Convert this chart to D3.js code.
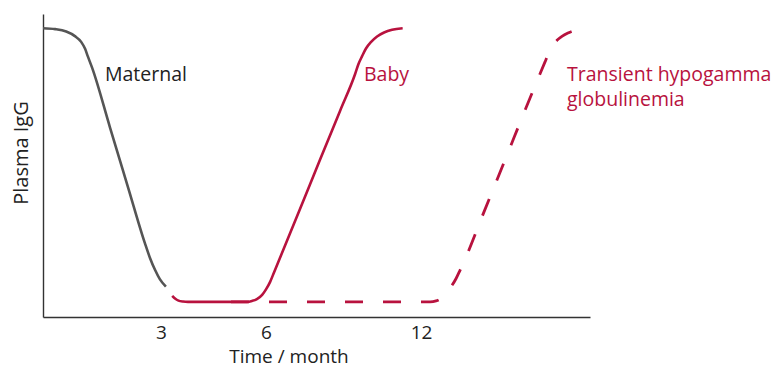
<!DOCTYPE html>
<html>
<head>
<meta charset="utf-8">
<script src="https://cdn.jsdelivr.net/npm/d3@7"></script>
<style>
  html, body { margin: 0; padding: 0; background: #fff; }
  svg { display: block; font-family: "Open Sans", "Noto Sans", sans-serif; }
</style>
</head>
<body>
<svg id="chart" width="781" height="368"></svg>
<script>
// ---- data ----
const tickMonths = [3, 6, 12];
const tickLabels = ["3", "6", "12"];

const maternalMonths = [0, 0.31, 0.59, 0.81, 0.97, 1.07, 1.14, 1.25, 1.7, 2.16, 2.59, 2.72, 2.85, 2.97, 3.14];
const maternalLevels = [95.3, 95.0, 94.2, 92.7, 90.8, 88.5, 86.0, 82.2, 62.7, 42.9, 24.4, 19.5, 15.5, 12.5, 10.0];

const babyMonths = [3.32, 3.4, 3.5, 3.63, 3.77, 5.46, 5.6, 5.74, 5.89, 6.0, 6.16, 6.31, 7.32, 8.09, 8.87, 9.45, 9.58, 9.72, 9.87, 10.07, 10.3, 10.57, 10.88, 11.29];
const babyLevels  = [7.0, 6.1, 5.4, 5.1, 5.0, 5.0, 5.3, 5.9, 7.3, 9.1, 11.6, 14.7, 35.7, 51.9, 68.1, 80.2, 83.5, 86.1, 88.6, 90.8, 92.6, 93.9, 94.8, 95.3];

const transientMonths = [5.0, 12.35, 12.58, 12.77, 12.96, 13.15, 13.35, 13.5, 13.65, 14.4, 15.23, 16.19, 16.77, 16.92, 17.08, 17.23, 17.42, 17.65, 17.85, 18.04];
const transientLevels = [5.0, 5.0, 5.3, 6.1, 7.8, 9.9, 12.7, 15.4, 18.2, 34.2, 51.8, 72.2, 84.2, 87.3, 89.8, 91.3, 92.6, 93.7, 94.4, 94.7];

const seriesNames = ["Maternal", "Baby", "Transient hypogamma|globulinemia"];
const xTitle = "Time / month";
const yTitle = "Plasma IgG";

// ---- layout ----
const svg = d3.select("#chart");
const grey = "#555555";
const red = "#B8123E";

// schematic (non-uniform) month axis
const x = d3.scaleLinear().domain([0, 3, 6, 12, 18.5]).range([43, 161, 266, 421, 590]);
const y = d3.scaleLinear().domain([0, 100]).range([317, 14]);

const zip = (ms, ls) => ms.map((m, i) => ({ m, v: ls[i] }));
const line = d3.line().x(d => x(d.m)).y(d => y(d.v)).curve(d3.curveMonotoneX);

// axes
const xAxis = d3.axisBottom(x).tickValues(tickMonths).tickFormat((d, i) => tickLabels[i]).tickSize(0).tickSizeOuter(0).tickPadding(9);
const gx = svg.append("g").attr("transform", `translate(0,${y(0)})`).call(xAxis);
gx.select(".domain").attr("stroke", "#333").attr("stroke-width", 1.4);
gx.selectAll("text").attr("font-size", 19).attr("fill", "#222").attr("font-family", "Open Sans, sans-serif");

const yAxis = d3.axisLeft(y).tickValues([]).tickSizeOuter(0);
const gy = svg.append("g").attr("transform", `translate(${x(0)},0)`).call(yAxis);
gy.select(".domain").attr("stroke", "#333").attr("stroke-width", 1.4);

// lines
svg.append("path").datum(zip(maternalMonths, maternalLevels))
  .attr("d", line).attr("fill", "none").attr("stroke", grey).attr("stroke-width", 2.6);

svg.append("path").datum(zip(transientMonths, transientLevels))
  .attr("d", line).attr("fill", "none").attr("stroke", red).attr("stroke-width", 2.8)
  .attr("stroke-dasharray", "18,20");

svg.append("path").datum(zip(babyMonths, babyLevels))
  .attr("d", line).attr("fill", "none").attr("stroke", red).attr("stroke-width", 2.6);

// labels
svg.append("text").attr("x", 105).attr("y", 81).attr("font-size", 19.5).attr("fill", "#222").text(seriesNames[0]);
svg.append("text").attr("x", 364).attr("y", 81).attr("font-size", 19.5).attr("fill", red).text(seriesNames[1]);
const tl = svg.append("text").attr("x", 567).attr("y", 81).attr("font-size", 19.5).attr("fill", red);
seriesNames[2].split("|").forEach((s, i) => {
  tl.append("tspan").attr("x", 567).attr("dy", i === 0 ? 0 : 25).text(s);
});

svg.append("text").attr("x", 289).attr("y", 363).attr("text-anchor", "middle")
  .attr("font-size", 19).attr("fill", "#222").text(xTitle);
svg.append("text").attr("transform", "translate(28,153) rotate(-90)").attr("text-anchor", "middle")
  .attr("font-size", 20).attr("fill", "#222").text(yTitle);
</script>
</body>
</html>
